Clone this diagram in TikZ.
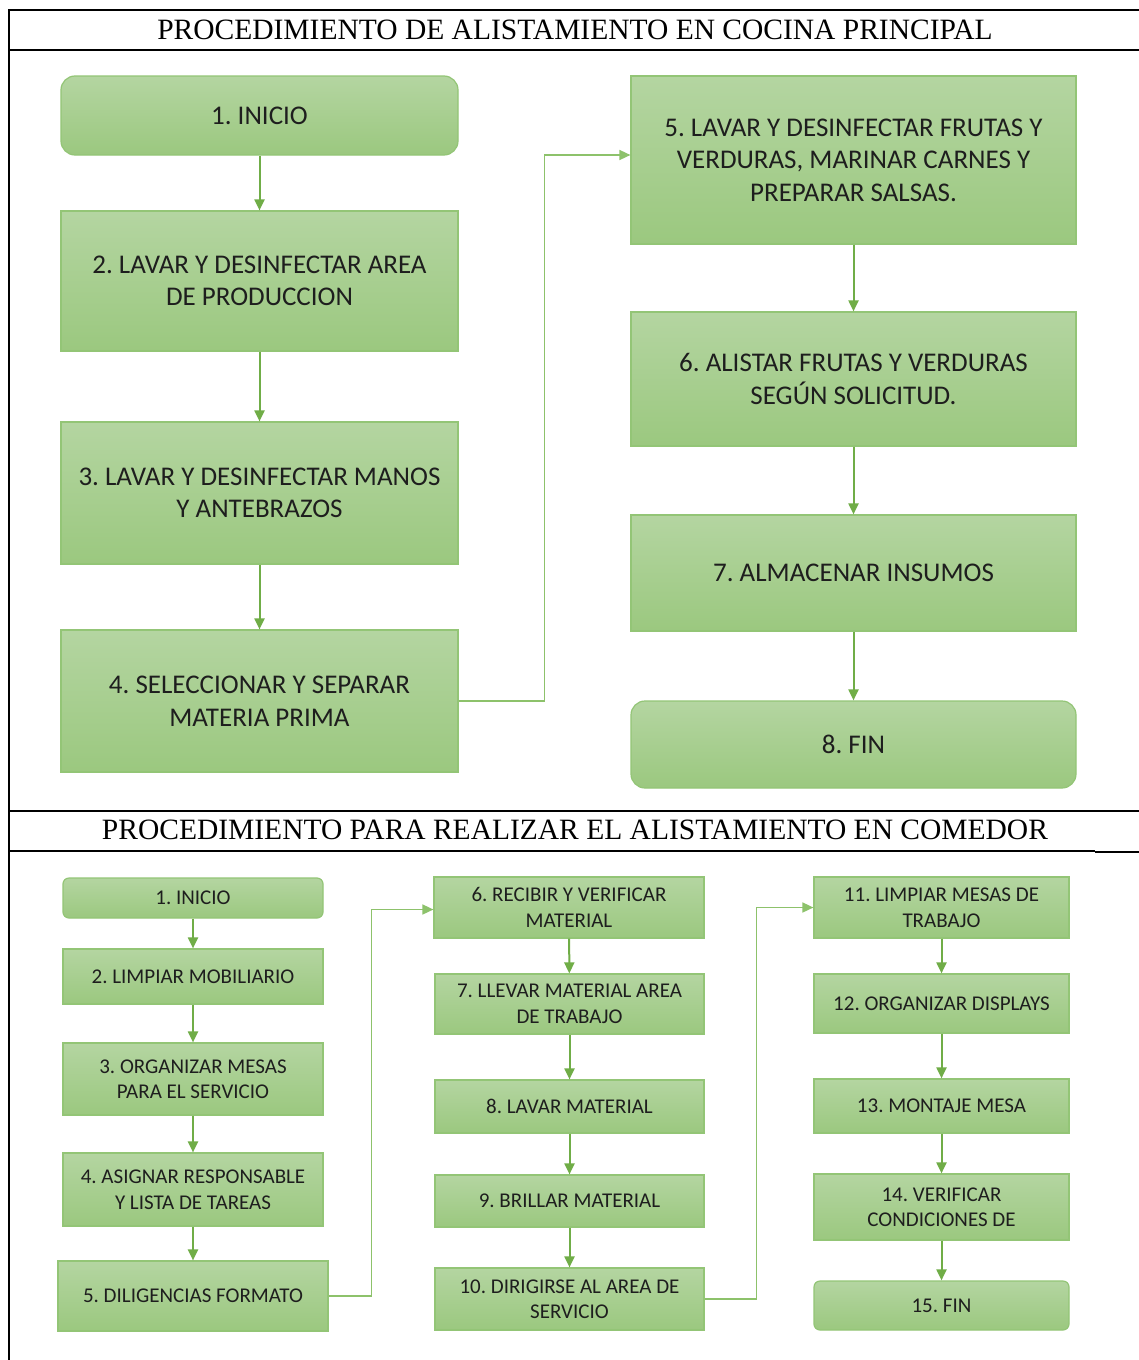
\documentclass[tikz,border=0pt]{standalone}
\usepackage{fontspec}
\setmainfont{Liberation Serif}
\newfontfamily\calfont{Carlito}
\usepackage{tikz}
\usetikzlibrary{arrows.meta}
\usetikzlibrary{shadings}

\definecolor{verdeclaro}{HTML}{B4D5A1}
\definecolor{verdeoscuro}{HTML}{9BC87F}
\definecolor{verdeborde}{HTML}{93C576}
\definecolor{verdeflecha}{HTML}{70AD47}
\definecolor{verdelinea}{HTML}{8DC26B}
\definecolor{textocaja}{HTML}{1E1E1E}

\frenchspacing

\begin{document}
\begin{tikzpicture}[x=1pt, y=-1pt, >={Triangle[length=11pt,width=10pt]}]
        \tikzset{
            paso/.style={draw=verdeborde, line width=1.2pt, top color=verdeclaro, bottom color=verdeoscuro,
                align=center, text=textocaja, inner sep=2pt},
            grande/.style={paso, font=\calfont\fontsize{27}{32.5}\selectfont},
            chico/.style={paso, font=\calfont\fontsize{21}{25.5}\selectfont},
            flecha/.style={->, draw=verdeflecha, line width=2pt},
            enlace/.style={->, draw=verdelinea, line width=1.6pt},
            titulo/.style={font=\fontsize{29.5}{31}\selectfont, inner sep=0pt}
        }
        \useasboundingbox (0,0) rectangle (1139,1360);
        \fill[white] (0,0) rectangle (1139,1360);

        % marco de la tabla
        \draw[line width=2.4pt] (1139,10) -- (9,10) -- (9,1360);
        \draw[line width=2.4pt] (9,50) -- (1139,50);
        \draw[line width=2.4pt] (9,811) -- (1139,811);
        \draw[line width=1.4pt] (9,851) -- (1095,851);
        \draw[line width=2.2pt] (1095,852) -- (1139,852);

        \node[titulo] (t1) at (575,30) {PROCEDIMIENTO DE ALISTAMIENTO EN COCINA PRINCIPAL};
        \node[titulo] (t2) at (575,830) {PROCEDIMIENTO PARA REALIZAR EL ALISTAMIENTO EN COMEDOR};

        % cocina principal
        \node[grande, rounded corners=14pt, minimum width=397, minimum height=79] (c1) at (259.5,115.5) {1. INICIO};
        \node[grande, minimum width=397, minimum height=140] (c2) at (259.5,281) {2. LAVAR Y DESINFECTAR AREA\\DE PRODUCCION};
        \node[grande, minimum width=397, minimum height=142] (c3) at (259.5,493) {3. LAVAR Y DESINFECTAR MANOS\\Y ANTEBRAZOS};
        \node[grande, minimum width=397, minimum height=142] (c4) at (259.5,701) {4. SELECCIONAR Y SEPARAR\\MATERIA PRIMA};
        \node[grande, minimum width=445, minimum height=168] (c5) at (853.5,160) {5. LAVAR Y DESINFECTAR FRUTAS Y\\VERDURAS, MARINAR CARNES Y\\PREPARAR SALSAS.};
        \node[grande, minimum width=445, minimum height=134] (c6) at (853.5,379) {6. ALISTAR FRUTAS Y VERDURAS\\SEGÚN SOLICITUD.};
        \node[grande, minimum width=445, minimum height=116] (c7) at (853.5,573) {7. ALMACENAR INSUMOS};
        \node[grande, rounded corners=14pt, minimum width=445, minimum height=87] (c8) at (853.5,744.5) {8. FIN};

        \draw[flecha] (c1) -- (c2);
        \draw[flecha] (c2) -- (c3);
        \draw[flecha] (c3) -- (c4);
        \draw[enlace] (c4.east) -- ++(86,0) |- ([yshift=5pt]c5.west);
        \draw[flecha] (c5) -- (c6);
        \draw[flecha] (c6) -- (c7);
        \draw[flecha] (c7) -- (c8);

        % comedor
        \node[chico, rounded corners=6pt, minimum width=260, minimum height=40] (b1) at (193,898) {1. INICIO};
        \node[chico, minimum width=260, minimum height=55] (b2) at (193,976.5) {2. LIMPIAR MOBILIARIO};
        \node[chico, minimum width=260, minimum height=72] (b3) at (193,1079) {3. ORGANIZAR MESAS\\PARA EL SERVICIO};
        \node[chico, minimum width=260, minimum height=73] (b4) at (193,1189.5) {4. ASIGNAR RESPONSABLE\\Y LISTA DE TAREAS};
        \node[chico, minimum width=270, minimum height=70] (b5) at (193,1296) {5. DILIGENCIAS FORMATO};

        \node[chico, minimum width=270, minimum height=61] (b6) at (569,907.5) {6. RECIBIR Y VERIFICAR\\MATERIAL};
        \node[chico, minimum width=269, minimum height=60] (b7) at (569.5,1004) {7. LLEVAR MATERIAL AREA\\DE TRABAJO};
        \node[chico, minimum width=269, minimum height=53] (b8) at (569.5,1106.5) {8. LAVAR MATERIAL};
        \node[chico, minimum width=269, minimum height=52] (b9) at (569.5,1201) {9. BRILLAR MATERIAL};
        \node[chico, minimum width=269, minimum height=62] (b10) at (569.5,1299) {10. DIRIGIRSE AL AREA DE\\SERVICIO};

        \node[chico, minimum width=255, minimum height=61] (b11) at (941.5,907.5) {11. LIMPIAR MESAS DE\\TRABAJO};
        \node[chico, minimum width=255, minimum height=59] (b12) at (941.5,1003.5) {12. ORGANIZAR DISPLAYS};
        \node[chico, minimum width=255, minimum height=54] (b13) at (941.5,1106) {13. MONTAJE MESA};
        \node[chico, minimum width=255, minimum height=66] (b14) at (941.5,1207) {14. VERIFICAR\\CONDICIONES DE};
        \node[chico, rounded corners=6pt, minimum width=255, minimum height=49] (b15) at (941.5,1305.5) {15. FIN};

        \draw[flecha] (b1) -- (b2);
        \draw[flecha] (b2) -- (b3);
        \draw[flecha] (b3) -- (b4);
        \draw[flecha] (b4) -- (b5);
        \draw[enlace] (b5.east) -- ++(43,0) |- ([yshift=-2pt]b6.west);
        \draw[flecha] (b6) -- (b7);
        \draw[flecha] (b7) -- (b8);
        \draw[flecha] (b8) -- (b9);
        \draw[flecha] (b9) -- (b10);
        \draw[enlace] (b10.east) -- ++(52,0) |- (b11.west);
        \draw[flecha] (b11) -- (b12);
        \draw[flecha] (b12) -- (b13);
        \draw[flecha] (b13) -- (b14);
        \draw[flecha] (b14) -- (b15);

    \end{tikzpicture}
\end{document}
